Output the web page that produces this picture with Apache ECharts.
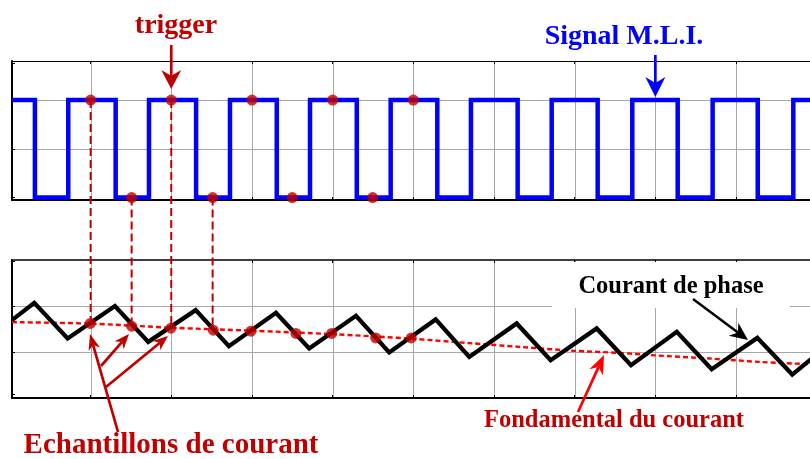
<!DOCTYPE html>
<html><head><meta charset="utf-8">
<script src="https://cdn.jsdelivr.net/npm/echarts@6/dist/echarts.min.js"></script>
<style>html,body{margin:0;padding:0;background:#fff}#c{width:810px;height:459px}</style>
</head><body><div id="c"></div>
<script>
// ---- data (time in PWM periods) ----
const pwmFallTimes = [-0.691, 0.310, 1.307, 2.307, 3.299, 4.297, 5.293, 6.285, 7.277, 8.269];
const pwmRiseTimes = [-0.278, 0.723, 1.727, 2.719, 3.719, 4.714, 5.715, 6.714, 7.710, 8.710];
const pwmHigh = 1, pwmLow = 0;

const currentTimes  = [-0.975, -0.699, -0.285, 0.301, 0.714, 1.302, 1.714, 2.297, 2.709, 3.289, 3.701, 4.277, 4.693, 5.281, 5.702, 6.273, 6.698, 7.265, 7.698, 8.264, 8.697, 9.05];
const currentValues = [0.693, 1.070, 0.294, 0.998, 0.220, 0.911, 0.126, 0.852, 0.076, 0.786, -0.011, 0.708, -0.107, 0.621, -0.179, 0.512, -0.288, 0.438, -0.375, 0.307, -0.490, 0.02];

const fundTimes  = [-0.976, -0.009, 0.995, 1.987, 2.991, 3.970, 4.702, 5.322, 5.979, 6.561, 6.970, 7.677, 8.297, 8.917, 9.3];
const fundValues = [0.649, 0.617, 0.529, 0.464, 0.388, 0.290, 0.192, 0.111, 0.028, -0.020, -0.070, -0.142, -0.216, -0.266, -0.29];

const pwmSampleTimes  = [0, 0.508, 0.999, 1.512, 2.0, 2.499, 3.0, 3.496, 4.0];
const pwmSampleLevels = [1, 0, 1, 0, 1, 0, 1, 0, 1];
const curSampleTimes  = [-0.005, 0.508, 0.995, 1.520, 1.987, 2.545, 2.988, 3.533, 3.974];
const curSampleValues = [0.621, 0.562, 0.519, 0.475, 0.453, 0.403, 0.403, 0.307, 0.307];

const gridTimes = [0, 1, 2, 3, 4, 5, 6, 7, 8];
const topGridLevels = [0.5, 1];
const bottomGridLevels = [0, 1];
const topTickLevels = [0, 0.5, 1.38];
const bottomTickLevels = [-0.92, 0, 1, 1.98];

// ---- build ----
const xMin = -0.975, xMax = 8.917;
const topRange = [-0.025, 1.4], bottomRange = [-1, 2];
const pwmData = [[xMin, pwmHigh]];
pwmFallTimes.forEach((f, i) => { pwmData.push([f, pwmLow]); pwmData.push([pwmRiseTimes[i], pwmHigh]); });
pwmData.push([xMax, pwmHigh]);

const zip = (a, b) => a.map((v, i) => [v, b[i]]);
const RED = '#c00000', GRAY = '#a8a8a8';

function xAx(g, pos, w) {
  return {gridIndex: g, type: 'value', min: xMin, max: xMax, position: pos,
    axisLine: {show: true, onZero: false, lineStyle: {color: '#000', width: w}},
    axisTick: {show: true, inside: true, length: 3, customValues: gridTimes, lineStyle: {color: '#000'}},
    axisLabel: {show: false}, splitLine: {show: false}};
}
function yAx(g, r, ticks) {
  return {gridIndex: g, type: 'value', min: r[0], max: r[1],
    axisLine: {show: true, onZero: false, lineStyle: {color: '#000', width: 2}},
    axisTick: {show: true, inside: true, length: 3, customValues: ticks, lineStyle: {color: '#000'}},
    axisLabel: {show: false}, splitLine: {show: false}};
}

const chart = echarts.init(document.getElementById('c'), null, {renderer: 'canvas'});
chart.setOption({
  animation: false,
  backgroundColor: '#fff',
  grid: [
    {left: 12, top: 61, width: 798, height: 139, show: false},
    {left: 12, top: 260, width: 798, height: 138, show: false}
  ],
  xAxis: [xAx(0, 'bottom', 2), xAx(0, 'top', 1.2), xAx(1, 'bottom', 2), xAx(1, 'top', 1.5)],
  yAxis: [yAx(0, topRange, topTickLevels), yAx(1, bottomRange, bottomTickLevels)],
  series: [
    {type: 'line', xAxisIndex: 0, yAxisIndex: 0, step: 'end', data: pwmData, showSymbol: false, z: 3,
      lineStyle: {color: '#0000ff', width: 4.5, join: 'miter'}},
    {type: 'line', xAxisIndex: 2, yAxisIndex: 1, data: zip(fundTimes, fundValues), smooth: 0.3, showSymbol: false, z: 3,
      lineStyle: {color: '#ff0000', width: 2.4, type: [5, 3]}},
    {type: 'line', xAxisIndex: 2, yAxisIndex: 1, data: zip(currentTimes, currentValues), showSymbol: false, z: 4,
      lineStyle: {color: '#000', width: 4.3, join: 'miter'}},
    {type: 'scatter', xAxisIndex: 0, yAxisIndex: 0, data: zip(pwmSampleTimes, pwmSampleLevels), symbolSize: 11, z: 6,
      itemStyle: {color: RED}},
    {type: 'scatter', xAxisIndex: 2, yAxisIndex: 1, data: zip(curSampleTimes, curSampleValues), symbolSize: 11, z: 6,
      itemStyle: {color: RED}}
  ]
});

// ---- grid lines + annotations ----
const P0 = v => chart.convertToPixel({gridIndex: 0}, v);
const P1 = v => chart.convertToPixel({gridIndex: 1}, v);
const g = [];
function gl(x1, y1, x2, y2) {
  g.push({type: 'line', z: 0, silent: true, shape: {x1, y1, x2, y2}, style: {stroke: GRAY, lineWidth: 1}});
}
[[P0, topRange, topGridLevels], [P1, bottomRange, bottomGridLevels]].forEach(([P, r, lv]) => {
  gridTimes.forEach(t => { const a = P([t, r[0]]), b = P([t, r[1]]); gl(Math.round(a[0]) + 0.5, a[1], Math.round(a[0]) + 0.5, b[1]); });
  lv.forEach(l => { const a = P([xMin, l]), b = P([xMax, l]); gl(a[0], Math.round(a[1]) + 0.5, b[0], Math.round(a[1]) + 0.5); });
});

function arrow(p1, p2, color, w, hl, hw) {
  const dx = p2[0] - p1[0], dy = p2[1] - p1[1], L = Math.hypot(dx, dy);
  const ux = dx / L, uy = dy / L, nx = -uy, ny = ux;
  const bx = p2[0] - ux * hl, by = p2[1] - uy * hl;
  const notch = [bx + ux * hl * 0.3, by + uy * hl * 0.3];
  g.push({type: 'line', z: 20, shape: {x1: p1[0], y1: p1[1], x2: notch[0], y2: notch[1]}, style: {stroke: color, lineWidth: w}});
  g.push({type: 'polygon', z: 20, shape: {points: [[p2[0], p2[1]], [bx + nx * hw / 2, by + ny * hw / 2], notch, [bx - nx * hw / 2, by - ny * hw / 2]]},
    style: {fill: color}});
}
function txt(s, x, y, size, color) {
  g.push({type: 'text', z: 21, style: {text: s, x: x, y: y, textAlign: 'center', textVerticalAlign: 'middle',
    font: 'bold ' + size + 'px "Liberation Serif", "Times New Roman", serif', fill: color}});
}

g.push({type: 'rect', z: 1, shape: {x: 552, y: 262, width: 238, height: 46}, style: {fill: '#fff'}});
for (let i = 0; i < 4; i++) {
  const a = P0([pwmSampleTimes[i], pwmSampleLevels[i]]);
  const b = P1([curSampleTimes[i], curSampleValues[i]]);
  g.push({type: 'line', z: 5, shape: {x1: a[0], y1: a[1], x2: a[0], y2: b[1]},
    style: {stroke: RED, lineWidth: 2, lineDash: [8, 4]}});
}
const trig = P0([pwmSampleTimes[2], pwmSampleLevels[2]]);
arrow([trig[0], 45], [trig[0], trig[1] - 11], RED, 2.7, 19, 20);
const sigTop = P0([7.0, pwmHigh]);
arrow([sigTop[0], 55], [sigTop[0], sigTop[1] - 3], '#0000ff', 2.7, 20, 20);
arrow([693, 299], [748, 340], '#000', 2.5, 18, 16);
arrow([578, 412], [604, 355], '#ff0000', 2.7, 19, 15);
arrow([118, 432], [90, 334], RED, 2.7, 16, 12);
arrow([101, 366], [129, 334], RED, 2.7, 15, 12);
arrow([106, 387], [168, 336], RED, 2.7, 15, 12);

txt('trigger', 176, 26, 28, RED);
txt('Signal M.L.I.', 624, 37, 28, '#0000ff');
txt('Courant de phase', 671, 287, 24.5, '#000');
txt('Fondamental du courant', 614, 421, 24.5, RED);
txt('Echantillons de courant', 171, 446, 29, RED);

chart.setOption({graphic: {elements: g}});
</script>
</body></html>
